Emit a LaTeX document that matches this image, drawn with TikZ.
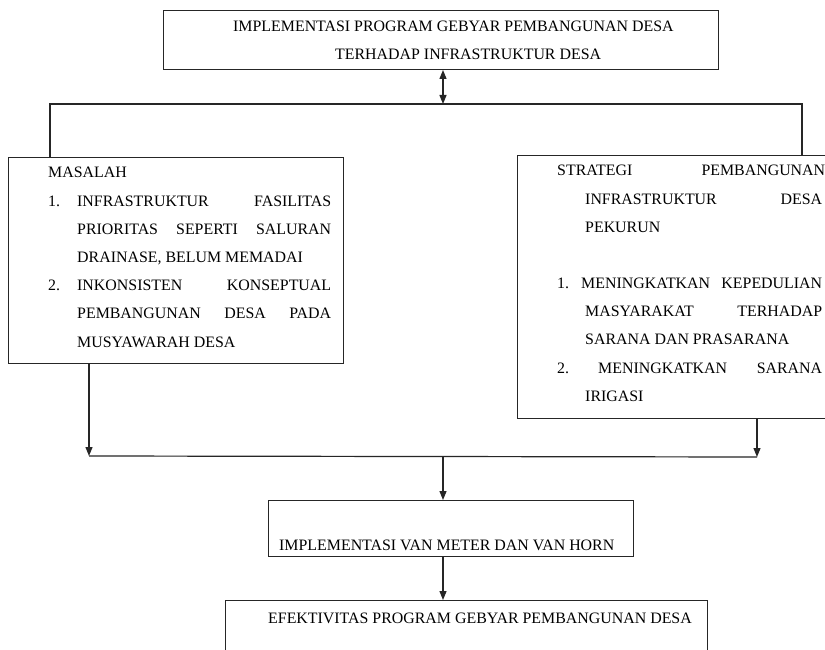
\documentclass[tikz,border=0pt]{standalone}
\usepackage{fontspec}
\setmainfont{Liberation Serif}
\usetikzlibrary{arrows.meta}
\begin{document}
\begin{tikzpicture}[x=1pt,y=-1pt,
  every node/.style={font=\fontsize{15.9}{18}\selectfont, inner sep=0pt, text=black},
  boxshape/.style={draw=black!85, line width=1pt, rectangle, inner sep=0pt, anchor=north west},
  conn/.style={draw=black!85, line width=1.2pt},
  arr/.style={conn, -{Triangle[length=9pt,width=7pt]}},
  darr/.style={conn, {Triangle[length=9pt,width=7pt]}-{Triangle[length=9pt,width=7pt]}},
  txt/.style={anchor=base west}]
\useasboundingbox (0,0) rectangle (825,650);
\clip (0,0) rectangle (825,650);
\fill[white] (0,0) rectangle (825,650);

% boxes
\node[boxshape, minimum width=555pt, minimum height=59pt] (top) at (163,10) {};
\node[boxshape, minimum width=335pt, minimum height=206pt] (mas) at (8,157) {};
\node[boxshape, minimum width=340pt, minimum height=263pt] (str) at (517,155) {};
\node[boxshape, minimum width=365pt, minimum height=56pt] (vmh) at (268,500) {};
\node[boxshape, minimum width=482pt, minimum height=80pt] (efk) at (225,600) {};

% texts top
\node[txt] (t1) at (233,32) {IMPLEMENTASI PROGRAM GEBYAR PEMBANGUNAN DESA};
\node[txt] (t2) at (335,60) {TERHADAP INFRASTRUKTUR DESA};

% masalah texts
\node[txt] (m0) at (48,177.5) {MASALAH};
\node[txt] (m1n) at (48,206.5) {1.};
\node[txt] (m1a) at (77,206.5) {\hbox to 254pt{INFRASTRUKTUR\hfill FASILITAS}};
\node[txt] (m1b) at (77,234.5) {\hbox to 254pt{PRIORITAS\hfill SEPERTI\hfill SALURAN}};
\node[txt] (m1c) at (77,262) {DRAINASE, BELUM MEMADAI};
\node[txt] (m2n) at (48,290.5) {2.};
\node[txt] (m2a) at (77,290.5) {\hbox to 254pt{INKONSISTEN\hfill KONSEPTUAL}};
\node[txt] (m2b) at (77,318.5) {\hbox to 254pt{PEMBANGUNAN\hfill DESA\hfill PADA}};
\node[txt] (m2c) at (77,347) {MUSYAWARAH DESA};

% strategi texts
\node[txt] (s0) at (557,175.5) {\hbox to 268pt{STRATEGI\hfill PEMBANGUNAN}};
\node[txt] (s1) at (585,204.5) {\hbox to 237pt{INFRASTRUKTUR\hfill DESA}};
\node[txt] (s2) at (585,233) {PEKURUN};
\node[txt] (s3n) at (557,288.5) {1.};
\node[txt] (s3a) at (581,288.5) {\hbox to 241pt{MENINGKATKAN\hfill KEPEDULIAN}};
\node[txt] (s3b) at (585,316.5) {\hbox to 237pt{MASYARAKAT\hfill TERHADAP}};
\node[txt] (s3c) at (585,344.5) {SARANA DAN PRASARANA};
\node[txt] (s4n) at (557,373.5) {2.};
\node[txt] (s4a) at (598,373.5) {\hbox to 224pt{MENINGKATKAN\hfill SARANA}};
\node[txt] (s4b) at (585,401.5) {IRIGASI};

% lower texts
\node[txt] (v1) at (279,550.5) {IMPLEMENTASI VAN METER DAN VAN HORN};
\node[txt] (e1) at (268,623.5) {EFEKTIVITAS PROGRAM GEBYAR PEMBANGUNAN DESA};

% connector coordinates
\coordinate (hL) at (50,104);
\coordinate (hR) at (802,104);
\coordinate (hM) at (443,104);
\coordinate (jL) at (89,456);
\coordinate (jR) at (757,457);
\coordinate (jM) at (443,456.5);

% connectors
\draw[darr] (top.south -| hM) -- (hM);
\draw[conn] (mas.north -| hL) -- (hL) -- (hR) -- (str.north -| hR);
\draw[arr] (mas.south -| jL) -- (jL);
\draw[arr] (str.south -| jR) -- (jR);
\draw[conn] (jL) -- (jR);
\draw[arr] (jM) -- (vmh.north -| jM);
\draw[arr] (vmh.south -| jM) -- (efk.north -| jM);
\end{tikzpicture}
\end{document}
